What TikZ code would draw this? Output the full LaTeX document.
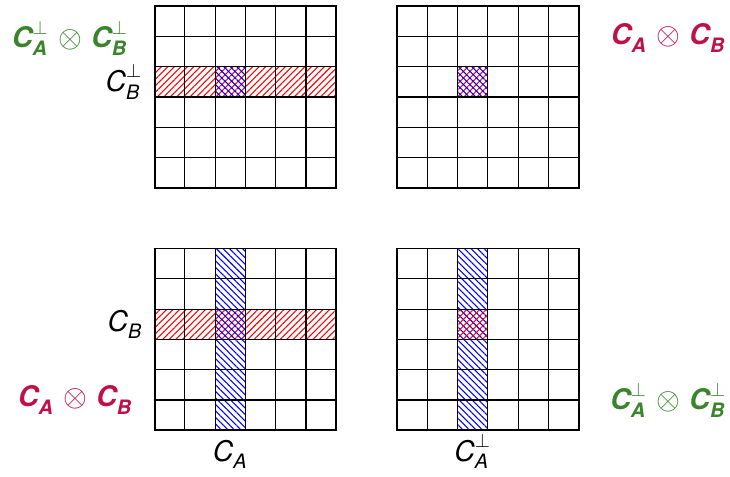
\documentclass[tikz,border=0pt]{standalone}
\usepackage{amsmath, amssymb}
\usepackage{fontspec}
\setmainfont{TeX Gyre Heros}
\usepackage{xcolor}
\usepackage{tikz}
\usetikzlibrary{patterns.meta}

\definecolor{perpgreen}{RGB}{58,132,44}
\definecolor{prodred}{RGB}{192,16,72}

\newcommand{\Cv}[2]{\textit{C}_{\textit{#1}}^{#2}}
\newcommand{\tens}{\mskip1.5mu\otimes\mskip1.5mu}

\tikzset{
  rowhatch/.style={pattern={Lines[angle=45, distance=2.6pt, line width=0.6pt]}, pattern color=red},
  colhatch/.style={pattern={Lines[angle=-45, distance=2.6pt, line width=0.6pt]}, pattern color=blue},
  perplabel/.style={text=perpgreen, font=\fontsize{16}{19}\selectfont\bfseries},
  prodlabel/.style={text=prodred, font=\fontsize{16}{19}\selectfont\bfseries},
  sidelabel/.style={font=\fontsize{16}{19}\selectfont}
}

\begin{document}
\begin{tikzpicture}[x=0.6cm, y=0.6cm]
  \useasboundingbox (0,0) rectangle (24.09,-15.71);
  \def\grid{
    \foreach \k in {1,...,5} {
      \draw[line width=0.65pt] (\k,0) -- (\k,6);
      \draw[line width=0.65pt] (0,\k) -- (6,\k);
    }
    \draw[line width=1.1pt] (0,0) rectangle (6,6);
  }

  % top left: C_B^perp row
  \begin{scope}[shift={(5.1,-6.2)}]
    \fill[rowhatch] (0,3) rectangle (6,4);
    \fill[colhatch] (2,3) rectangle (3,4);
    \grid
  \end{scope}

  % top right: single cell
  \begin{scope}[shift={(13.1,-6.2)}]
    \fill[rowhatch] (2,3) rectangle (3,4);
    \fill[colhatch] (2,3) rectangle (3,4);
    \grid
  \end{scope}

  % bottom left: row and column
  \begin{scope}[shift={(5.1,-14.2)}]
    \fill[rowhatch] (0,3) rectangle (6,4);
    \fill[colhatch] (2,0) rectangle (3,6);
    \grid
  \end{scope}

  % bottom right: C_A^perp column
  \begin{scope}[shift={(13.1,-14.2)}]
    \fill[colhatch] (2,0) rectangle (3,6);
    \fill[rowhatch] (2,3) rectangle (3,4);
    \grid
  \end{scope}

  \node[perplabel] (tlLab) at (2.31,-1.25) {$\Cv{A}{\perp}\tens\Cv{B}{\perp}$};
  \node[prodlabel] (trLab) at (22.05,-1.25) {$\Cv{A}{}\tens\Cv{B}{}$};
  \node[prodlabel] (blLab) at (2.48,-13.2) {$\Cv{A}{}\tens\Cv{B}{}$};
  \node[perplabel] (brLab) at (22.05,-13.2) {$\Cv{A}{\perp}\tens\Cv{B}{\perp}$};

  \node[sidelabel, anchor=east] (cbPerp) at (4.9,-2.7) {$\Cv{B}{\perp}$};
  \node[sidelabel, anchor=east] (cb) at (4.9,-10.7) {$\Cv{B}{}$};
  \node[sidelabel] (ca) at (7.6,-15.0) {$\Cv{A}{}$};
  \node[sidelabel] (caPerp) at (15.6,-14.9) {$\Cv{A}{\perp}$};
\end{tikzpicture}
\end{document}
